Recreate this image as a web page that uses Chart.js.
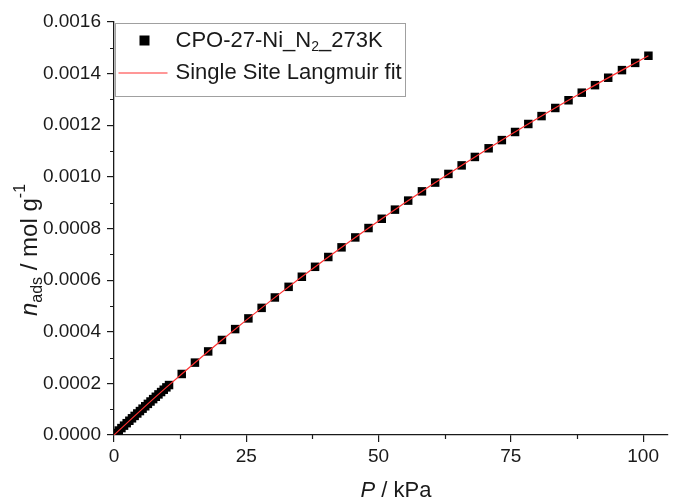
<!DOCTYPE html>
<html>
<head>
<meta charset="utf-8">
<script src="https://cdn.jsdelivr.net/npm/chart.js"></script>
<style>
  html, body { margin: 0; padding: 0; background: #fff; }
</style>
</head>
<body>
<canvas id="isotherm" width="674" height="504"></canvas>
<script>
"use strict";

// N2 uptake on CPO-27-Ni at 273 K (kPa, mol/g)
const pressure = [
  0.4, 0.9, 1.4, 1.9, 2.4, 2.9, 3.4, 3.9, 4.4, 4.9, 5.4, 5.9, 6.4, 6.9, 7.4, 7.9, 8.4, 8.9, 9.4, 9.9, 10.4,
  12.8, 15.3, 17.8, 20.4, 22.9, 25.4, 27.9, 30.4, 33.0, 35.5, 38.0, 40.5, 43.0, 45.6, 48.1, 50.6, 53.1,
  55.6, 58.2, 60.7, 63.2, 65.7, 68.2, 70.8, 73.3, 75.8, 78.3, 80.8, 83.4, 85.9, 88.4, 90.9, 93.4, 96.0,
  98.5, 101.0
];
const uptake = [
  0.0000077, 0.0000173, 0.0000268, 0.0000363, 0.0000458, 0.0000552, 0.0000647, 0.0000740, 0.0000834,
  0.0000927, 0.0001020, 0.0001113, 0.0001206, 0.0001298, 0.0001390, 0.0001481, 0.0001573, 0.0001664,
  0.0001754, 0.0001845, 0.0001935,
  0.0002364, 0.0002804, 0.0003238, 0.0003682, 0.0004103, 0.0004517, 0.0004925, 0.0005328, 0.0005740,
  0.0006131, 0.0006516, 0.0006896, 0.0007270, 0.0007654, 0.0008018, 0.0008377, 0.0008731, 0.0009081,
  0.0009439, 0.0009779, 0.0010114, 0.0010445, 0.0010772, 0.0011107, 0.0011425, 0.0011739, 0.0012049,
  0.0012355, 0.0012669, 0.0012968, 0.0013262, 0.0013553, 0.0013841, 0.0014136, 0.0014416, 0.0014693
];

// single site Langmuir fit curve
const fitPressure = [0, 5, 10, 20, 30, 40, 50, 60, 70, 80, 90, 101];
const fitUptake = [
  0, 0.0000946, 0.0001863, 0.0003614, 0.0005264, 0.0006820, 0.0008292, 0.0009684,
  0.0011004, 0.0012258, 0.0013449, 0.0014693
];

// axis ticks
const xTicks = [0, 25, 50, 75, 100];
const xMinorTicks = [12.5, 37.5, 62.5, 87.5];
const yTicks = [0, 0.0002, 0.0004, 0.0006, 0.0008, 0.0010, 0.0012, 0.0014, 0.0016];
const yMinorTicks = [0.0001, 0.0003, 0.0005, 0.0007, 0.0009, 0.0011, 0.0013, 0.0015];

const seriesLabel = [{ text: "CPO-27-Ni_N" }, { text: "2", sub: true }, { text: "_273K" }];
const fitLabel = [{ text: "Single Site Langmuir fit" }];
const xTitle = [{ text: "P", italic: true }, { text: " / kPa" }];
const yTitle = [{ text: "n", italic: true }, { text: "ads", sub: true }, { text: " / mol g" }, { text: "-1", sup: true }];

const FONT = "Arial, 'Liberation Sans', sans-serif";
const INK = "#1a1a1a";

let toPoints = (xs, ys) => xs.map((x, i) => ({ x: x, y: ys[i] }));

// rich text with sub/superscripts
let partFont = (p, size) => {
  let s = (p.sub || p.sup) ? Math.round(size * 0.65) : size;
  return (p.italic ? "italic " : "") + s + "px " + FONT;
};
let richWidth = (ctx, parts, size) => {
  let w = 0;
  for (let p of parts) {
    ctx.font = partFont(p, size);
    w += ctx.measureText(p.text).width;
  }
  return w;
};
let drawRich = (ctx, parts, x, y, size, align) => {
  let w = richWidth(ctx, parts, size);
  let cx = align === "center" ? x - w / 2 : x;
  ctx.textAlign = "left";
  ctx.textBaseline = "middle";
  for (let p of parts) {
    ctx.font = partFont(p, size);
    let dy = p.sub ? size * 0.32 : (p.sup ? -size * 0.4 : 0);
    ctx.fillText(p.text, cx, y + dy);
    cx += ctx.measureText(p.text).width;
  }
};

const decorations = {
  id: "decorations",
  afterDraw(chart) {
    let ctx = chart.ctx;
    let area = chart.chartArea;
    let xs = chart.scales.x;
    let ys = chart.scales.y;
    ctx.save();

    // minor ticks
    ctx.strokeStyle = INK;
    ctx.lineWidth = 1.2;
    ctx.beginPath();
    for (let v of xMinorTicks) {
      let px = Math.round(xs.getPixelForValue(v)) + 0.5;
      ctx.moveTo(px, area.bottom);
      ctx.lineTo(px, area.bottom + 4);
    }
    for (let v of yMinorTicks) {
      let py = Math.round(ys.getPixelForValue(v)) + 0.5;
      ctx.moveTo(area.left, py);
      ctx.lineTo(area.left - 4, py);
    }
    ctx.stroke();

    // axis titles
    ctx.fillStyle = INK;
    drawRich(ctx, xTitle, 396, 491, 22, "center");
    ctx.save();
    ctx.translate(30, 250);
    ctx.rotate(-Math.PI / 2);
    drawRich(ctx, yTitle, 0, 0, 24, "center");
    ctx.restore();

    // legend
    let lx = area.left + 1.5;
    let ly = area.top + 1.5;
    ctx.fillStyle = "#fff";
    ctx.fillRect(lx, ly, 290, 73);
    ctx.strokeStyle = "#a0a0a0";
    ctx.lineWidth = 1;
    ctx.strokeRect(lx, ly, 290, 73);

    let pts = chart.data.datasets[1];
    ctx.fillStyle = pts.pointBackgroundColor;
    ctx.fillRect(lx + 24, ly + 12, 10, 10);
    ctx.fillStyle = INK;
    drawRich(ctx, seriesLabel, lx + 60, ly + 17, 22, "left");

    let fit = chart.data.datasets[0];
    ctx.strokeStyle = fit.borderColor;
    ctx.lineWidth = fit.borderWidth;
    ctx.beginPath();
    ctx.moveTo(lx + 3, ly + 49.5);
    ctx.lineTo(lx + 52, ly + 49.5);
    ctx.stroke();
    drawRich(ctx, fitLabel, lx + 60, ly + 49, 22, "left");

    ctx.restore();
  }
};

new Chart(document.querySelector("#isotherm"), {
  type: "scatter",
  data: {
    datasets: [{
      label: "Single Site Langmuir fit",
      data: toPoints(fitPressure, fitUptake),
      showLine: true,
      borderColor: "#ff3030",
      borderWidth: 1.2,
      pointRadius: 0,
      cubicInterpolationMode: "monotone",
      order: 0
    }, {
      label: "CPO-27-Ni_N2_273K",
      data: toPoints(pressure, uptake),
      pointStyle: "rect",
      pointRadius: 6,
      pointBackgroundColor: "#000",
      pointBorderWidth: 0,
      order: 1
    }]
  },
  options: {
    responsive: false,
    animation: false,
    devicePixelRatio: 1,
    layout: { padding: { top: 22, left: 0, right: 0, bottom: 0 } },
    plugins: {
      legend: { display: false },
      tooltip: { enabled: false }
    },
    scales: {
      x: {
        type: "linear",
        min: 0,
        max: 104.7,
        afterBuildTicks: scale => { scale.ticks = xTicks.map(v => ({ value: v })); },
        afterFit: scale => { scale.height = 69; },
        border: { color: INK, width: 1.3 },
        grid: { drawOnChartArea: false, drawTicks: true, tickLength: 7, color: INK, lineWidth: 1.2 },
        ticks: {
          padding: 3,
          color: INK,
          font: { family: FONT, size: 19 },
          maxRotation: 0,
          callback: v => String(v)
        }
      },
      y: {
        type: "linear",
        min: 0,
        max: 0.0016,
        afterBuildTicks: scale => { scale.ticks = yTicks.map(v => ({ value: v })); },
        afterFit: scale => { scale.width = 114; },
        border: { color: INK, width: 1.3 },
        grid: { drawOnChartArea: false, drawTicks: true, tickLength: 7, color: INK, lineWidth: 1.2 },
        ticks: {
          padding: 6,
          color: INK,
          font: { family: FONT, size: 19 },
          callback: v => v.toFixed(4)
        }
      }
    }
  },
  plugins: [decorations]
});
</script>
</body>
</html>
